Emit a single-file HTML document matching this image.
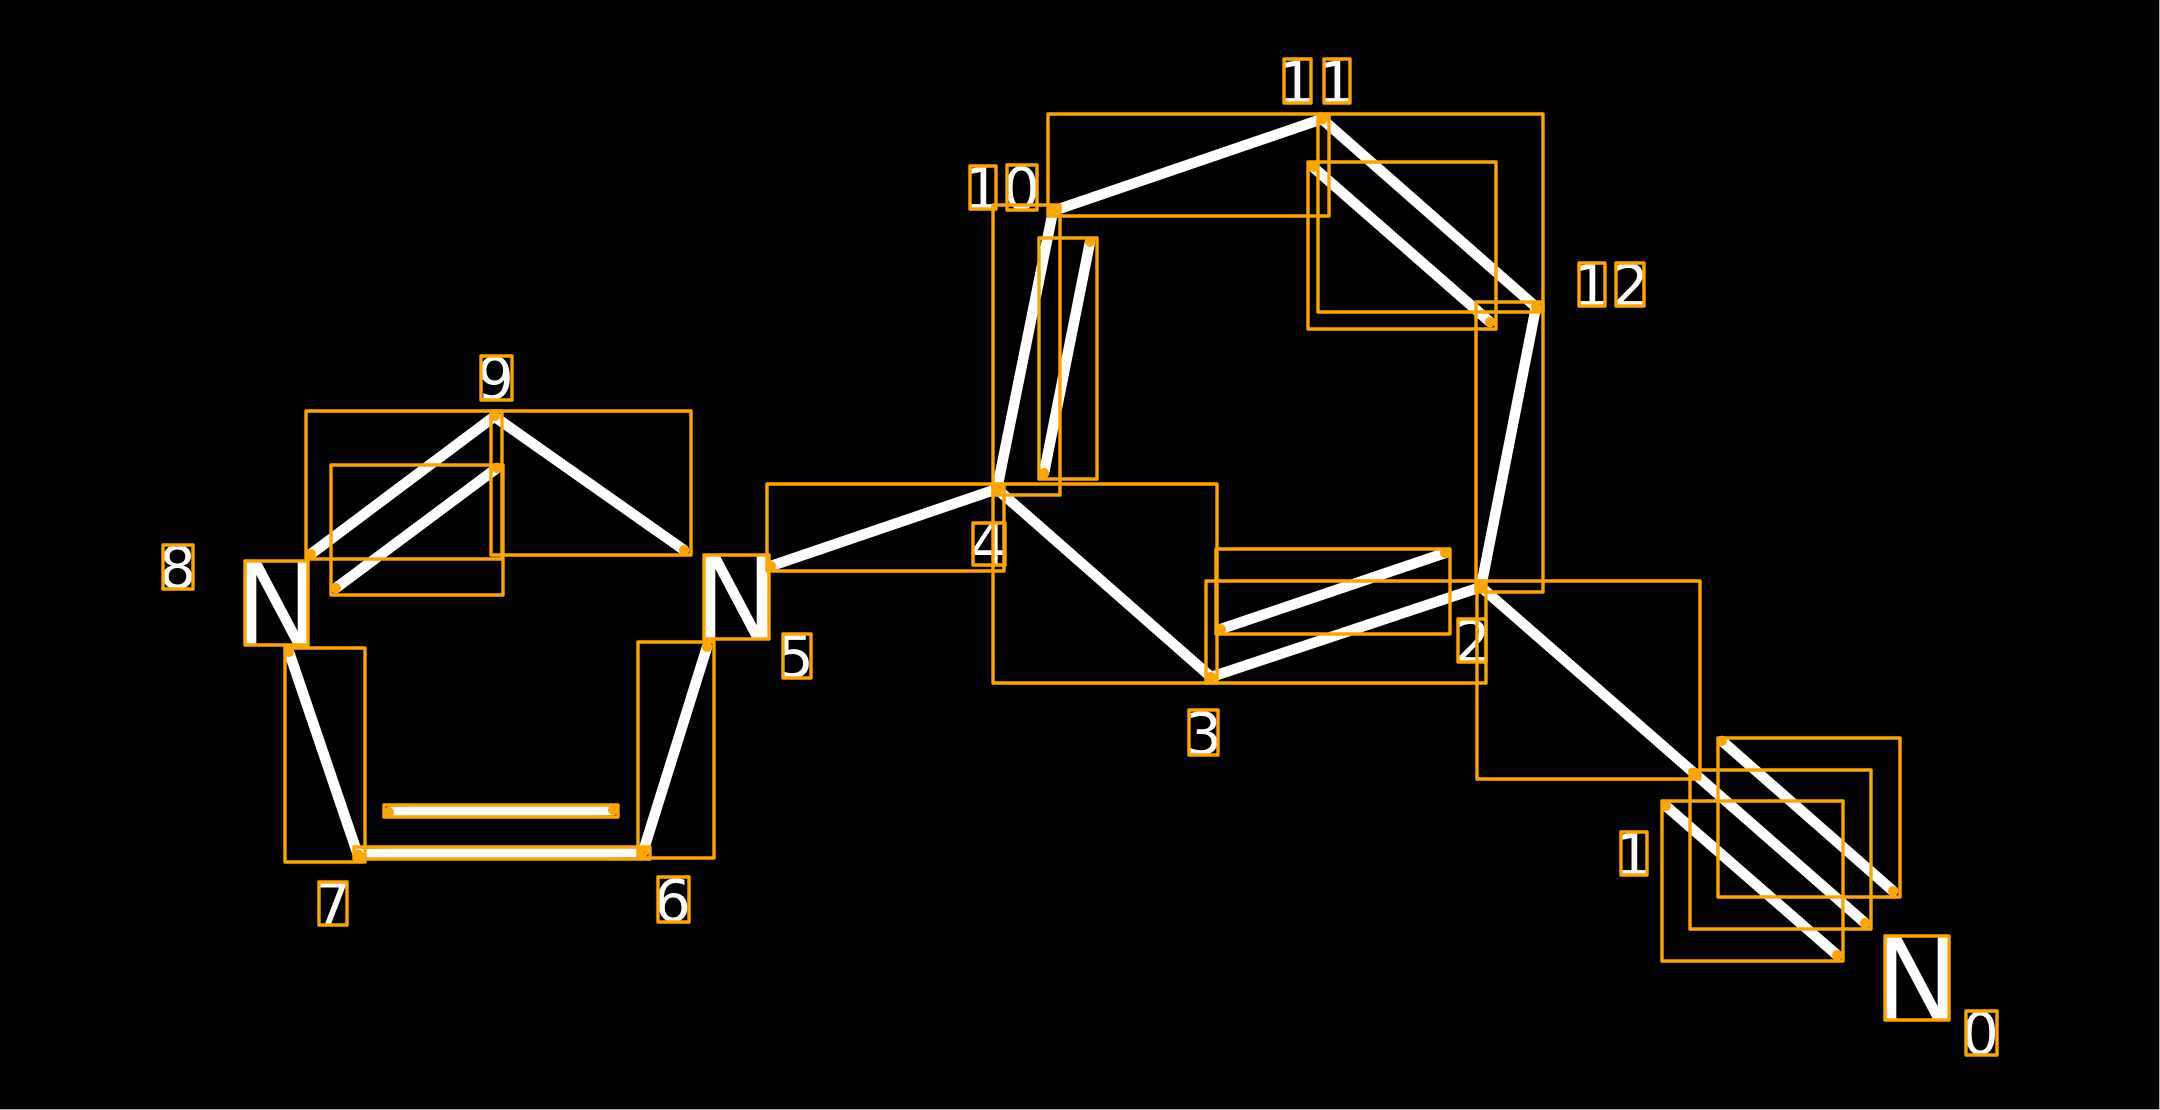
<!DOCTYPE html>
<html>
<head>
<meta charset="utf-8">
<style>
html,body{margin:0;padding:0;background:#000;width:2160px;height:1110px;overflow:hidden}
svg{display:block}
text{font-family:"DejaVu Sans",sans-serif;fill:#fff}
.d{font-size:58px}
.n{font-size:115px}
.l line{stroke:#fff;stroke-width:10.5;stroke-linecap:round}
.r rect{fill:none;stroke:#FFA500;stroke-width:3.4;stroke-linejoin:round}
.p circle{fill:#FFA500}
</style>
</head>
<body>
<svg xmlns="http://www.w3.org/2000/svg" width="2160" height="1110" viewBox="0 0 2160 1110">
<rect x="0" y="0" width="2160" height="1110" fill="#000"/>
<rect x="2159" y="0" width="1" height="1110" fill="#aaa"/>
<rect x="0" y="1109" width="2160" height="1" fill="#aaa"/>
<g class="l">
<line x1="1481" y1="587" x2="1694" y2="773"/>
<line x1="1694" y1="773" x2="1865" y2="923"/>
<line x1="1722" y1="741" x2="1893" y2="891"/>
<line x1="1666" y1="806" x2="1837" y2="955"/>
<line x1="1481" y1="587" x2="1211" y2="677"/>
<line x1="1221" y1="629" x2="1445" y2="553"/>
<line x1="997" y1="489" x2="1211" y2="677"/>
<line x1="771" y1="566" x2="997" y2="489"/>
<line x1="997" y1="489" x2="1053" y2="211"/>
<line x1="1044" y1="473" x2="1090" y2="242"/>
<line x1="1053" y1="211" x2="1322" y2="119"/>
<line x1="1322" y1="119" x2="1536" y2="307"/>
<line x1="1313" y1="167" x2="1490" y2="322"/>
<line x1="1536" y1="307" x2="1481" y2="587"/>
<line x1="684" y1="550" x2="495" y2="417"/>
<line x1="311" y1="554" x2="495" y2="416"/>
<line x1="336" y1="588" x2="497" y2="468"/>
<line x1="289" y1="652" x2="358" y2="855"/>
<line x1="358" y1="854" x2="643" y2="852"/>
<line x1="389" y1="812" x2="613" y2="810"/>
<line x1="643" y1="852" x2="707" y2="647"/>
</g>
<text class="n" x="1874" y="1020">N</text>
<text class="n" x="693" y="639">N</text>
<text class="n" x="234" y="645">N</text>
<text class="d" x="1962" y="1054">0</text>
<text class="d" x="1615" y="875">1</text>
<text class="d" x="1454" y="662">2</text>
<text class="d" x="1185" y="754">3</text>
<text class="d" x="970" y="565">4</text>
<text class="d" x="777" y="677">5</text>
<text class="d" x="654" y="921">6</text>
<text class="d" x="314" y="925">7</text>
<text class="d" x="159" y="588">8</text>
<text class="d" x="477" y="399">9</text>
<text class="d" x="964" y="209">1</text>
<text class="d" x="1003" y="209">0</text>
<text class="d" x="1278" y="103">1</text>
<text class="d" x="1318" y="103">1</text>
<text class="d" x="1573" y="306">1</text>
<text class="d" x="1612" y="306">2</text>
<g class="p">
<circle cx="1694" cy="773" r="5.5"/><circle cx="1865" cy="923" r="5"/>
<circle cx="1722" cy="741" r="5"/><circle cx="1893" cy="891" r="5"/>
<circle cx="1666" cy="806" r="5"/><circle cx="1837" cy="955" r="5"/>
<circle cx="1481" cy="587" r="5.5"/><circle cx="1211" cy="677" r="5"/>
<circle cx="1221" cy="629" r="5"/><circle cx="1445" cy="553" r="5"/>
<circle cx="997" cy="489" r="5.5"/><circle cx="771" cy="566" r="5"/>
<circle cx="1053" cy="211" r="5.5"/><circle cx="1044" cy="473" r="5"/>
<circle cx="1090" cy="242" r="5"/><circle cx="1322" cy="119" r="5.5"/>
<circle cx="1536" cy="307" r="5"/><circle cx="1313" cy="167" r="5"/>
<circle cx="1490" cy="322" r="5"/><circle cx="684" cy="550" r="5"/>
<circle cx="495" cy="416" r="5"/><circle cx="311" cy="554" r="5"/>
<circle cx="336" cy="588" r="5"/><circle cx="497" cy="468" r="5"/>
<circle cx="289" cy="652" r="5"/><circle cx="358" cy="855" r="5.5"/>
<circle cx="643" cy="852" r="5.5"/><circle cx="389" cy="812" r="5"/>
<circle cx="613" cy="810" r="5"/><circle cx="707" cy="647" r="5"/>
</g>
<g class="r">
<rect x="1718" y="738" width="182" height="159"/>
<rect x="1690" y="770" width="181" height="159"/>
<rect x="1662" y="801" width="181" height="160"/>
<rect x="1477" y="581" width="223" height="198"/>
<rect x="1206" y="581" width="280" height="102"/>
<rect x="1216" y="549" width="234" height="85"/>
<rect x="993" y="484" width="224" height="199"/>
<rect x="767" y="484" width="237" height="87"/>
<rect x="993" y="205" width="67" height="290"/>
<rect x="1039" y="238" width="58" height="241"/>
<rect x="1048" y="114" width="281" height="102"/>
<rect x="1318" y="114" width="225" height="198"/>
<rect x="1308" y="162" width="188" height="167"/>
<rect x="1476" y="302" width="67" height="290"/>
<rect x="491" y="411" width="200" height="144"/>
<rect x="306" y="411" width="196" height="148"/>
<rect x="331" y="465" width="172" height="130"/>
<rect x="285" y="648" width="80" height="214"/>
<rect x="354" y="847" width="296" height="12"/>
<rect x="384" y="805" width="234" height="12"/>
<rect x="638" y="642" width="76" height="216"/>
<rect x="1885" y="936" width="64" height="84"/>
<rect x="704" y="555" width="65" height="84"/>
<rect x="245" y="561" width="63" height="84"/>
<rect x="1966" y="1011" width="31" height="44"/>
<rect x="1621" y="832" width="26" height="43"/>
<rect x="1458" y="619" width="28" height="43"/>
<rect x="1189" y="710" width="29" height="45"/>
<rect x="973" y="523" width="32" height="42"/>
<rect x="783" y="634" width="28" height="44"/>
<rect x="658" y="877" width="31" height="45"/>
<rect x="319" y="882" width="28" height="43"/>
<rect x="163" y="545" width="30" height="44"/>
<rect x="481" y="356" width="31" height="44"/>
<rect x="970" y="166" width="26" height="43"/>
<rect x="1007" y="165" width="30" height="45"/>
<rect x="1284" y="59" width="27" height="44"/>
<rect x="1324" y="59" width="26" height="44"/>
<rect x="1579" y="263" width="26" height="43"/>
<rect x="1616" y="263" width="28" height="43"/>
</g>
</svg>
</body>
</html>
